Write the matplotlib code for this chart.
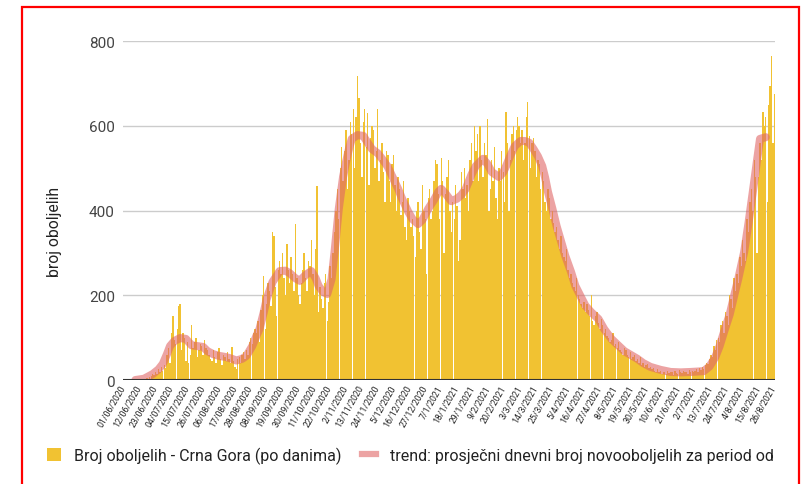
import matplotlib.pyplot as plt
from matplotlib.patches import Rectangle, Patch
from matplotlib.lines import Line2D

plt.rcParams['font.family'] = ['Roboto', 'DejaVu Sans']

# daily new cases, 1/6/2020 .. 26/8/2021
jun20 = [0] * 14 + [3, 1, 5, 2, 8, 10, 14, 12, 20, 15, 25, 18, 30, 22, 35, 28]
jul20 = [60, 75, 40, 110, 150, 95, 85, 120, 175, 180, 70, 110, 100, 45, 90, 40,
         60, 130, 75, 90, 100, 55, 70, 85, 80, 60, 95, 75, 70, 60, 50]
aug20 = [45, 70, 55, 40, 65, 75, 50, 35, 60, 55, 45, 65, 50, 40, 78, 45,
         30, 25, 50, 55, 40, 60, 65, 50, 70, 60, 90, 100, 85, 110, 120]
sep20 = [110, 140, 90, 165, 200, 245, 120, 180, 230, 210, 175, 350, 340, 220, 150,
         260, 280, 250, 300, 240, 200, 320, 260, 230, 290, 250, 210, 368, 240, 200]
oct20 = [180, 230, 260, 300, 240, 210, 280, 270, 330, 250, 200, 310, 458, 160, 220, 190,
         170, 230, 250, 140, 185, 270, 240, 300, 350, 400, 450, 380, 500, 550, 470]
nov20 = [540, 590, 450, 520, 610, 580, 640, 500, 620, 717, 665, 560, 480, 610, 640,
         550, 630, 460, 570, 600, 590, 500, 540, 640, 470, 520, 560, 490, 420, 540]
dec20 = [530, 470, 420, 510, 530, 460, 400, 480, 450, 390, 420, 470, 360, 330, 430, 400,
         360, 380, 340, 290, 400, 420, 350, 310, 460, 400, 380, 250, 430, 450, 380]
jan21 = [400, 470, 520, 510, 440, 380, 525, 470, 300, 440, 480, 520, 400, 350, 420, 380,
         460, 410, 280, 330, 490, 450, 500, 430, 460, 400, 520, 560, 470, 600, 540]
feb21 = [580, 470, 600, 520, 480, 560, 530, 616, 400, 450, 520, 470, 550, 430,
         380, 500, 470, 540, 490, 420, 632, 560, 400, 520, 580, 600, 540, 590]
mar21 = [620, 600, 560, 590, 520, 560, 620, 656, 575, 500, 560, 570, 540, 480, 520, 510,
         450, 490, 470, 420, 400, 450, 430, 380, 400, 370, 350, 360, 330, 310, 340]
apr21 = [300, 290, 280, 310, 260, 240, 250, 230, 220, 210, 240, 200, 190, 180, 170,
         185, 160, 180, 165, 150, 200, 140, 130, 150, 160, 135, 120, 145, 130, 110]
may21 = [120, 105, 100, 90, 95, 110, 80, 85, 75, 90, 70, 65, 60, 75, 70, 60,
         55, 65, 50, 55, 60, 45, 50, 40, 55, 35, 40, 30, 35, 38, 28]
jun21 = [30, 25, 28, 22, 20, 25, 18, 22, 15, 20, 18, 14, 22, 16, 20,
         18, 12, 21, 17, 15, 24, 19, 16, 22, 18, 20, 15, 23, 19, 21]
jul21 = [18, 22, 25, 20, 28, 24, 30, 26, 35, 40, 38, 50, 60, 55, 80, 70,
         95, 100, 90, 130, 140, 110, 160, 150, 130, 200, 190, 170, 240, 210, 250]
aug21 = [230, 290, 270, 330, 300, 280, 380, 350, 420, 450, 400, 520, 480, 300,
         480, 560, 520, 632, 600, 620, 420, 650, 694, 765, 560, 675]

cases = (jun20 + jul20 + aug20 + sep20 + oct20 + nov20 + dec20 + jan21 + feb21
         + mar21 + apr21 + may21 + jun21 + jul21 + aug21)
days = list(range(len(cases)))

# trend line (average daily cases), sampled off the chart
trend_days = [8, 14, 20, 24, 27, 30, 32, 35, 39, 43, 47, 51, 55, 58, 62, 66, 71, 75, 78,
              82, 85, 89, 92, 94, 97, 99, 103, 108, 112, 115, 119, 122, 126, 130, 133,
              135, 138, 141, 144, 146, 149, 152, 154, 156, 158, 162, 166, 169, 172, 176,
              179, 183, 186, 190, 193, 197, 200, 204, 207, 211, 215, 218, 220, 223, 227,
              231, 234, 237, 241, 244, 249, 252, 255, 260, 263, 265, 268, 271, 275, 278,
              281, 284, 287, 290, 292, 294, 297, 300, 303, 306, 310, 313, 317, 320, 324,
              329, 333, 338, 342, 347, 351, 356, 360, 365, 372, 379, 386, 393, 398, 402,
              406, 410, 413, 416, 420, 423, 426, 430, 433, 436, 439, 441, 445]
trend_vals = [0, 3, 14, 25, 38, 62, 80, 92, 99, 97, 82, 80, 78, 68, 61, 57, 54, 50, 46,
              50, 57, 80, 105, 120, 160, 191, 231, 257, 258, 252, 240, 234, 248, 257, 240,
              222, 208, 203, 238, 300, 404, 480, 514, 545, 569, 578, 576, 560, 545, 535,
              522, 503, 481, 452, 427, 398, 380, 368, 378, 404, 425, 444, 451, 440, 422,
              428, 437, 451, 485, 505, 522, 510, 491, 479, 490, 505, 530, 552, 564, 564,
              560, 545, 528, 505, 478, 444, 405, 363, 328, 293, 255, 222, 195, 175, 160,
              144, 120, 97, 84, 68, 60, 50, 40, 31, 24, 19, 18, 19, 20, 21,
              32, 54, 80, 113, 155, 198, 240, 302, 370, 444, 520, 569, 573]

tick_labels = ['01/06/2020', '12/06/2020', '23/06/2020', '04/07/2020', '15/07/2020',
               '26/07/2020', '06/08/2020', '17/08/2020', '28/08/2020', '08/09/2020',
               '19/09/2020', '30/09/2020', '11/10/2020', '22/10/2020', '2/11/2020',
               '13/11/2020', '24/11/2020', '5/12/2020', '16/12/2020', '27/12/2020',
               '7/1/2021', '18/1/2021', '29/1/2021', '9/2/2021', '20/2/2021', '3/3/2021',
               '14/3/2021', '25/3/2021', '5/4/2021', '16/4/2021', '27/4/2021', '8/5/2021',
               '19/5/2021', '30/5/2021', '10/6/2021', '21/6/2021', '2/7/2021',
               '13/7/2021', '24/7/2021', '4/8/2021', '15/8/2021', '26/8/2021']

fig = plt.figure(figsize=(8.1, 4.85), dpi=100)
ax = fig.add_axes([0.152, 0.2144, 0.805, 0.699])

ax.bar(days, cases, width=0.95, color='#f1c232', linewidth=0, zorder=2)
ax.plot(trend_days, trend_vals, color='#e06666', alpha=0.6, lw=5.8,
        solid_capstyle='round', solid_joinstyle='round', zorder=3)

ax.set_xlim(-0.5, len(cases) - 0.5)
ax.set_ylim(0, 800)
ax.set_yticks([0, 200, 400, 600, 800])
ax.yaxis.grid(True, color='#cccccc', lw=1)
ax.set_axisbelow(True)
ax.axhline(0, color='#333333', lw=1.5, zorder=4)
for s in ax.spines.values():
    s.set_visible(False)

ax.set_xticks(range(0, len(cases), 11))
ax.set_xticklabels(tick_labels, rotation=60, ha='right', va='center',
                   rotation_mode='anchor', fontsize=6.3, color='#222222')
ax.tick_params(axis='x', length=0, pad=4)
ax.tick_params(axis='y', length=0, pad=6, labelsize=11, labelcolor='#444444')

ax.set_ylabel('broj oboljelih', fontsize=11.3, color='#222222')
ax.yaxis.set_label_coords(-0.093, 0.44)

handles = [Patch(facecolor='#f1c232', edgecolor='none'),
           Line2D([], [], color='#e06666', alpha=0.6, lw=4.5)]
fig.legend(handles, ['Broj oboljelih - Crna Gora (po danima)',
                     'trend: prosječni dnevni broj novooboljelih za period od'],
           loc='center left', bbox_to_anchor=(0.058, 0.06), ncol=2, frameon=False,
           fontsize=11.5, labelcolor='#222222', handlelength=0.88, handleheight=0.88,
           handletextpad=0.82, columnspacing=1.3, borderaxespad=0, borderpad=0)

fig.add_artist(Rectangle((0.027, -0.05), 0.9594, 1.0335, transform=fig.transFigure,
                         fill=False, edgecolor='#ff0000', lw=1.6))

fig.savefig('out.png', dpi=100)
